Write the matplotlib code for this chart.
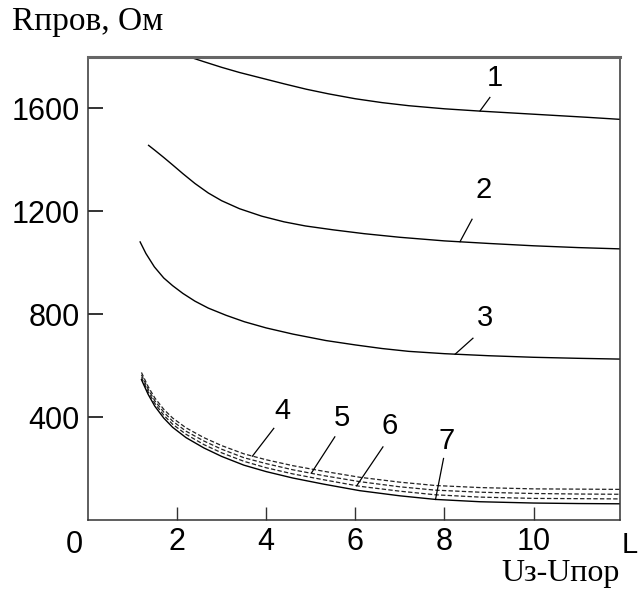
import matplotlib
matplotlib.use("Agg")
import matplotlib.pyplot as plt

plt.rcParams['font.family'] = ['Liberation Sans', 'DejaVu Sans']

# кривые 1-3
x1 = [2.3, 2.6, 3.0, 3.4, 3.9, 4.4, 4.9, 5.4, 6.0, 6.6, 7.2, 8.0, 8.8, 9.6, 10.4, 11.2, 11.94]
r1 = [1797, 1780, 1758, 1738, 1716, 1694, 1673, 1655, 1636, 1621, 1609, 1597, 1588, 1580, 1572, 1564, 1556]

x2 = [1.36, 1.5, 1.7, 1.9, 2.13, 2.4, 2.7, 3.0, 3.4, 3.9, 4.4, 4.88, 5.5, 6.2, 7.0, 8.0, 9.0, 10.0, 11.0, 11.94]
r2 = [1455, 1436, 1408, 1379, 1345, 1307, 1270, 1240, 1209, 1180, 1158, 1142, 1127, 1112, 1098, 1084, 1074, 1065, 1058, 1053]

x3 = [1.17, 1.3, 1.49, 1.7, 1.9, 2.13, 2.4, 2.7, 3.1, 3.51, 4.0, 4.6, 5.34, 6.0, 6.6, 7.2, 8.0, 9.0, 10.0, 11.0, 11.94]
r3 = [1080, 1035, 983, 940, 910, 880, 850, 823, 795, 770, 746, 722, 697, 680, 666, 655, 646, 638, 632, 628, 625]

# пучок 4-7
xb = [1.2, 1.35, 1.5, 1.7, 1.9, 2.2, 2.6, 3.0, 3.5, 4.0, 4.6, 5.3, 6.1, 7.0, 7.8, 8.8, 10.0, 11.0, 11.94]
r4 = [573, 518, 474, 430, 396, 358, 320, 289, 257, 234, 211, 189, 166, 147, 134, 126, 121, 120, 119]
r5 = [564, 508, 463, 419, 384, 345, 307, 275, 242, 219, 195, 172, 149, 129, 116, 108, 103, 101, 100]
r6 = [554, 498, 453, 407, 372, 333, 293, 261, 228, 203, 179, 156, 131, 112, 98, 89, 84, 83, 82]
r7 = [545, 488, 442, 396, 360, 320, 280, 247, 213, 188, 163, 139, 114, 94, 80, 71, 66, 64, 63]

xticks = [2, 4, 6, 8, 10]
yticks = [400, 800, 1200, 1600]

# подписи кривых: текст, позиция цифры, начало и конец выноски
labels = [
    ("1", (9.12, 1718), (8.80, 1589), (9.02, 1641)),
    ("2", (8.87, 1281), (8.35, 1081), (8.62, 1168)),
    ("3", (8.91, 784), (8.24, 644), (8.64, 706)),
    ("4", (4.36, 424), (3.69, 248), (4.17, 356)),
    ("5", (5.69, 398), (5.02, 184), (5.54, 323)),
    ("6", (6.76, 366), (6.03, 133), (6.62, 284)),
    ("7", (8.05, 307), (7.80, 80), (7.98, 239)),
]

fig = plt.figure(figsize=(6.4, 5.9), dpi=100)
ax = fig.add_axes([0.1375, 0.1186, 0.8312, 0.7856])

ax.plot(x1, r1, color='black', lw=1.0)
ax.plot(x2, r2, color='black', lw=1.0)
ax.plot(x3, r3, color='black', lw=1.0)
for r in (r4, r5, r6):
    ax.plot(xb, r, color='#222222', lw=0.9, dashes=(3.5, 1.8))
ax.plot(xb, r7, color='black', lw=1.0)

for txt, (tx, ty), (ax0, ay0), (ax1, ay1) in labels:
    ax.plot([ax0, ax1], [ay0, ay1], color='black', lw=0.9)
    ax.text(tx, ty, txt, fontsize=21, ha='center', va='center')

ax.set_xlim(0, 11.94)
ax.set_ylim(0, 1800)
ax.set_xticks(xticks)
ax.set_yticks(yticks)
ax.tick_params(direction='in', labelsize=22, color='#333333')
ax.tick_params(axis='x', length=9.5, width=1.0, pad=5)
ax.tick_params(axis='y', length=11, width=1.4, pad=6)

for side in ('left', 'right', 'bottom'):
    ax.spines[side].set_color('#333333')
    ax.spines[side].set_linewidth(1.1)
ax.spines['top'].set_color('#666666')
ax.spines['top'].set_linewidth(2.2)

# ноль в углу и буква у правого края
ax.text(-0.31, -97, "0", fontsize=22, ha='center', va='center', clip_on=False)
ax.text(11.97, -97, "L", fontsize=21, ha='left', va='center', clip_on=False)

fig.text(12 / 640, 1 - 22 / 590, "Rпров, Ом", family='Liberation Serif',
         fontsize=24, ha='left', va='center')
fig.text(620 / 640, 1 - 573 / 590, "Uз-Uпор", family='Liberation Serif',
         fontsize=23, ha='right', va='center')

fig.savefig("out.png", dpi=100)
